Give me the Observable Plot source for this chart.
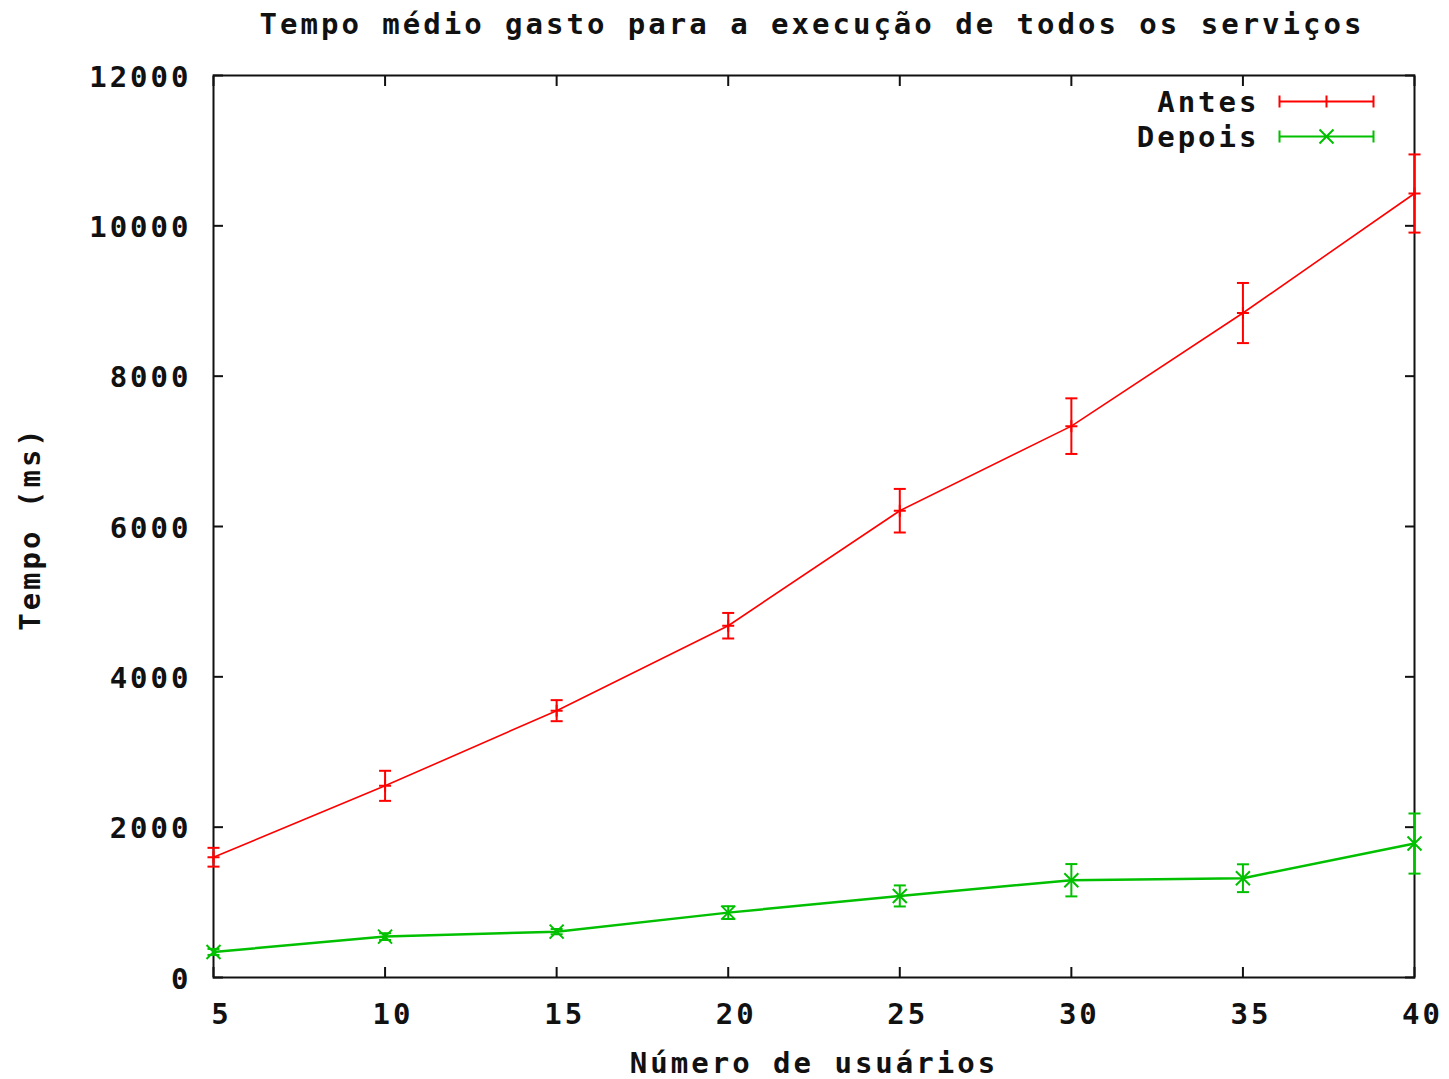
<!DOCTYPE html>
<html>
<head>
<meta charset="utf-8">
<script src="https://cdn.jsdelivr.net/npm/d3@7"></script>
<script src="https://cdn.jsdelivr.net/npm/@observablehq/plot@0.6"></script>
<style>
  html, body { margin: 0; padding: 0; background: #fff; }
  #chart svg { display: block; }
  #chart svg text { letter-spacing: 3px; }
</style>
</head>
<body>
<div id="chart"></div>
<script>
const title = "Tempo médio gasto para a execução de todos os serviços";
const xLabel = "Número de usuários";
const yLabel = "Tempo (ms)";
const seriesNames = ["Antes", "Depois"];
const users = [5, 10, 15, 20, 25, 30, 35, 40];
const antes = [1600, 2550, 3550, 4680, 6210, 7335, 8840, 10430];
const antesErr = [125, 200, 140, 170, 290, 370, 400, 520];
const depois = [340, 544, 610, 863, 1085, 1294, 1321, 1782];
const depoisErr = [40, 45, 35, 85, 140, 215, 185, 400];
const xTicks = [5, 10, 15, 20, 25, 30, 35, 40];
const yTicks = [0, 2000, 4000, 6000, 8000, 10000, 12000];

const RED = "#ff0000", GREEN = "#00c000", INK = "#111";
const FS = 29;

const rowsA = users.map((u, i) => ({x: u, y: antes[i], lo: antes[i] - antesErr[i], hi: antes[i] + antesErr[i]}));
const rowsD = users.map((u, i) => ({x: u, y: depois[i], lo: depois[i] - depoisErr[i], hi: depois[i] + depoisErr[i]}));

const rad = (size) => Math.sqrt(size / Math.PI);
const plusSym = {draw(c, s) { const r = rad(s); c.moveTo(-r, 0); c.lineTo(r, 0); c.moveTo(0, -r); c.lineTo(0, r); }};
const crossSym = {draw(c, s) { const r = rad(s); c.moveTo(-r, -r); c.lineTo(r, r); c.moveTo(-r, r); c.lineTo(r, -r); }};
const capSym = {draw(c, s) { const r = rad(s); c.moveTo(-r, 0); c.lineTo(r, 0); }};
function legendSym(marker) {
  return {draw(c, s) {
    const r = rad(s), L = 47, h = 6;
    c.moveTo(-L, 0); c.lineTo(L, 0);
    c.moveTo(-L, -h); c.lineTo(-L, h);
    c.moveTo(L, -h); c.lineTo(L, h);
    if (marker === "plus") { c.moveTo(0, -r); c.lineTo(0, r); }
    else { c.moveTo(-r, -r); c.lineTo(r, r); c.moveTo(-r, r); c.lineTo(r, -r); }
  }};
}

const chart = Plot.plot({
  width: 1449,
  height: 1079,
  marginLeft: 213,
  marginRight: 35,
  marginTop: 75,
  marginBottom: 102,
  style: {fontFamily: "DejaVu Sans Mono", fontSize: FS + "px", fontWeight: "bold", color: INK, background: "#fff"},
  x: {domain: [5, 40]},
  y: {domain: [0, 12000]},
  marks: [
    // inward ticks on all four sides
    Plot.axisX(xTicks, {anchor: "bottom", tickSize: -10, tickFormat: () => "", label: null, strokeWidth: 2, stroke: INK}),
    Plot.axisX(xTicks, {anchor: "top", tickSize: -10, tickFormat: () => "", label: null, strokeWidth: 2, stroke: INK}),
    Plot.axisY(yTicks, {anchor: "left", tickSize: -10, tickFormat: () => "", label: null, strokeWidth: 2, stroke: INK}),
    Plot.axisY(yTicks, {anchor: "right", tickSize: -10, tickFormat: () => "", label: null, strokeWidth: 2, stroke: INK}),
    // tick labels
    Plot.axisX(xTicks, {anchor: "bottom", tickSize: 0, tickPadding: 26, dx: 8, tickFormat: d3.format("d"), label: null, fontSize: FS, fill: INK}),
    Plot.axisY(yTicks, {anchor: "left", tickSize: 0, tickPadding: 22, dy: 2, tickFormat: d3.format("d"), label: null, fontSize: FS, fill: INK}),
    Plot.frame({stroke: INK, strokeWidth: 2}),
    // Antes
    Plot.line(rowsA, {x: "x", y: "y", stroke: RED, strokeWidth: 1.6}),
    Plot.ruleX(rowsA, {x: "x", y1: "lo", y2: "hi", stroke: RED, strokeWidth: 2}),
    Plot.dot(rowsA, {x: "x", y: "lo", symbol: capSym, r: 6, stroke: RED, strokeWidth: 2}),
    Plot.dot(rowsA, {x: "x", y: "hi", symbol: capSym, r: 6, stroke: RED, strokeWidth: 2}),
    Plot.dot(rowsA, {x: "x", y: "y", symbol: plusSym, r: 6, stroke: RED, strokeWidth: 2}),
    // Depois
    Plot.line(rowsD, {x: "x", y: "y", stroke: GREEN, strokeWidth: 2.5}),
    Plot.ruleX(rowsD, {x: "x", y1: "lo", y2: "hi", stroke: GREEN, strokeWidth: 2}),
    Plot.dot(rowsD, {x: "x", y: "lo", symbol: capSym, r: 6, stroke: GREEN, strokeWidth: 2}),
    Plot.dot(rowsD, {x: "x", y: "hi", symbol: capSym, r: 6, stroke: GREEN, strokeWidth: 2}),
    Plot.dot(rowsD, {x: "x", y: "y", symbol: crossSym, r: 7, stroke: GREEN, strokeWidth: 2}),
    // legend
    Plot.text([seriesNames[0]], {frameAnchor: "top-right", lineAnchor: "middle", textAnchor: "end", dx: -155, dy: 27, fontSize: FS, fill: INK}),
    Plot.text([seriesNames[1]], {frameAnchor: "top-right", lineAnchor: "middle", textAnchor: "end", dx: -155, dy: 62, fontSize: FS, fill: INK}),
    Plot.dot([0], {frameAnchor: "top-right", dx: -88, dy: 26, symbol: legendSym("plus"), r: 6, stroke: RED, strokeWidth: 2}),
    Plot.dot([0], {frameAnchor: "top-right", dx: -88, dy: 61, symbol: legendSym("cross"), r: 7, stroke: GREEN, strokeWidth: 2}),
    // titles
    Plot.text([title], {frameAnchor: "top", lineAnchor: "middle", dx: -2, dy: -51, fontSize: FS, fill: INK}),
    Plot.text([xLabel], {frameAnchor: "bottom", lineAnchor: "middle", dy: 86, fontSize: FS, fill: INK}),
    Plot.text([yLabel], {frameAnchor: "left", lineAnchor: "middle", textAnchor: "middle", dx: -183, dy: 2, rotate: -90, fontSize: FS, fill: INK})
  ]
});
document.getElementById("chart").appendChild(chart);
</script>
</body>
</html>
